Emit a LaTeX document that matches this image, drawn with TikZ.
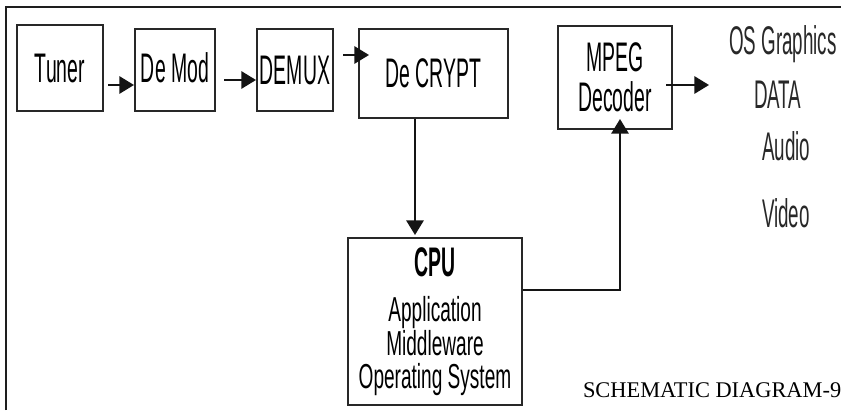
\documentclass[tikz,border=0pt]{standalone}
\usepackage{fontspec}
\setmainfont{Liberation Serif}
\newfontfamily\narrowsf[FakeStretch=0.47]{Liberation Sans}
\newfontfamily\cpusf[FakeStretch=0.55]{Liberation Sans}
\usetikzlibrary{arrows.meta,calc}

\tikzset{every picture/.style={line width=1.5pt}}
\tikzset{
  blockbox/.style={draw={rgb,255:red,40;green,40;blue,40},fill=white,inner sep=0pt,align=center,font=\narrowsf\fontsize{31}{30}\selectfont},
  sidelabel/.style={inner sep=0pt,anchor=base west,text={rgb,255:red,40;green,40;blue,40},font=\narrowsf\fontsize{30}{30}\selectfont},
  arr/.style={draw={rgb,255:red,20;green,20;blue,20},-{Triangle[length=11pt,width=13pt]}}
}

\begin{document}
\begin{tikzpicture}[x=0.75pt,y=0.75pt,yscale=-1,xscale=1]
\useasboundingbox (0,0) rectangle (841,410);

%Frame: top and left edge
\draw [line width=2.2pt,color={rgb, 255:red, 30; green, 30; blue, 30 }]  (6,410) -- (6,7) -- (841,7) ;

%Shape: Rectangle
\node [blockbox,minimum width=64.5pt,minimum height=64.5pt] (tuner) at (60,68) {Tuner};
%Shape: Rectangle
\node [blockbox,minimum width=60pt,minimum height=61.5pt] (demod) at (175,70) {\raisebox{4pt}{De Mod}};
%Shape: Rectangle
\node [blockbox,minimum width=57pt,minimum height=61.5pt] (demux) at (295,70) {DEMUX};
%Shape: Rectangle
\node [blockbox,minimum width=111.75pt,minimum height=66.75pt] (decrypt) at (433.5,73.5) {De CRYPT};
%Shape: Rectangle
\node [blockbox,minimum width=85.5pt,minimum height=77.25pt] (mpeg) at (615,77.5) {MPEG\\Decoder};
%Shape: Rectangle
\node [blockbox,minimum width=130.5pt,minimum height=125.25pt,font=\cpusf\fontsize{26}{25}\selectfont] (cpu) at (435,321.5) {{\narrowsf\bfseries\fontsize{31}{25}\selectfont CPU}\\[9pt]Application\\Middleware\\Operating System};

%Straight Lines
\draw [arr]  ($(tuner.east)+(4,17)$) -- ($(demod.west)+(0,15)$) ;
%Straight Lines
\draw [arr]  ($(demod.east)+(8,10)$) -- ($(demux.west)+(0,10)$) ;
%Straight Lines
\draw [arr]  ($(demux.east)+(9,-15)$) -- ($(decrypt.west)+(11,-18.5)$) ;
%Straight Lines
\draw [arr]  ($(decrypt.south)+(-18.5,0)$) -- ($(cpu.north)+(-20,-2)$) ;
%Straight Lines
\draw [arr]  ($(cpu.east)+(0,-31.5)$) -| ($(mpeg.south)+(5,-11)$) ;
%Straight Lines
\coordinate (out) at (709,85);
\draw [arr]  ($(mpeg.east)+(-7,7.5)$) -- (out) ;

% Text Node
\node [sidelabel] (osgfx) at (728,55) {OS Graphics};
% Text Node
\node [sidelabel] (data) at (753,108) {DATA};
% Text Node
\node [sidelabel] (audio) at (761,160) {Audio};
% Text Node
\node [sidelabel] (video) at (761,227) {Video};
% Text Node
\node [inner sep=0pt,anchor=base west,font=\fontsize{16.8}{20}\selectfont] (caption) at (582,397) {SCHEMATIC DIAGRAM-9};

\end{tikzpicture}
\end{document}
